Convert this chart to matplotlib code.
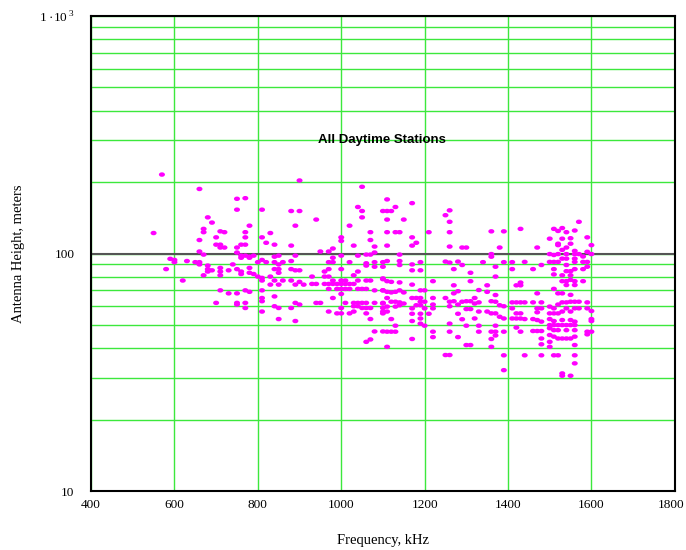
import numpy as np
import matplotlib
matplotlib.use("Agg")
import matplotlib.pyplot as plt
import matplotlib.transforms as mtransforms
from matplotlib.path import Path
from matplotlib.ticker import FixedLocator, NullFormatter

plt.rcParams['font.family'] = ['Liberation Serif', 'DejaVu Serif']
plt.rcParams['mathtext.fontset'] = 'custom'
plt.rcParams['mathtext.rm'] = 'Liberation Serif'

# frequency (kHz) and antenna height (m)
freq_600 = [570, 660, 680, 690, 670, 670, 550, 710, 700, 660, 700, 710, 710, 660, 670, 590, 600, 600,
            630, 650, 660, 660, 680, 680, 690, 680, 580, 670, 710, 710, 710, 620, 710, 700]
hgt_600 = [215, 187, 142, 135, 127, 123, 122, 124, 117, 114, 109, 109, 106, 102, 99, 95, 94, 92,
           93, 92, 92, 90, 89, 86, 85, 84, 86, 81, 87, 84, 81, 77, 70, 62]

freq_800 = [900, 750, 770, 750, 810, 880, 900, 890, 780, 720, 770, 770, 810, 830, 820, 840, 880, 720,
            750, 760, 770, 750, 760, 770, 780, 790, 760, 780, 740, 730, 750, 760, 760, 780, 780, 790,
            800, 810, 820, 800, 810, 810, 830, 830, 840, 850, 840, 850, 840, 850, 860, 880, 890, 880,
            890, 900, 850, 860, 880, 900, 910, 890, 840, 850, 770, 780, 730, 750, 810, 810, 810, 810,
            750, 750, 770, 770, 840, 840, 850, 880, 890, 900, 850, 890]
hgt_800 = [203, 170, 171, 153, 153, 151, 151, 131, 131, 123, 123, 117, 117, 122, 111, 109, 108, 106,
           106, 109, 109, 101, 98, 98, 97, 98, 96, 96, 90, 85, 86, 84, 82, 87, 83, 82,
           92, 94, 92, 80, 79, 77, 80, 74, 97, 98, 92, 90, 86, 86, 92, 93, 98, 86,
           85, 85, 83, 77, 77, 76, 74, 74, 77, 74, 70, 69, 68, 68, 70, 65, 63, 57,
           62, 61, 62, 59, 66, 60, 59, 59, 62, 61, 53, 52]

freq_1000 = [1050, 940, 1040, 1050, 1050, 1100, 1020, 1000, 1000, 1070, 1070, 1030, 1080, 950, 970, 980,
             1000, 1040, 1060, 1070, 1080, 980, 970, 980, 1020, 1060, 1060, 1080, 1100, 1080, 1100,
             960, 970, 930, 960, 970, 980, 1000, 1000, 1010, 1030, 1040, 1040, 1060, 1070, 1100,
             930, 940, 960, 970, 980, 990, 1000, 1010, 1020, 1030,
             970, 990, 1000, 1010, 1020, 1040, 1050, 1060, 1080, 1100, 1000, 980,
             940, 950, 1010, 1030, 1040, 1050, 1060, 1080, 1100,
             1030, 1040, 1050, 1060, 1070, 1100, 1000, 1000, 990, 1020, 1030, 1060, 1070, 1100, 970,
             1080, 1100, 1060, 1070]
hgt_1000 = [191, 139, 157, 151, 142, 151, 131, 117, 113, 123, 114, 108, 107, 102, 102, 105,
            98, 98, 99, 99, 101, 96, 92, 92, 92, 91, 89, 92, 92, 88, 88,
            84, 86, 80, 80, 80, 77, 86, 77, 77, 81, 84, 77, 77, 77, 78,
            74.5, 74.5, 74.5, 74.5, 74.5, 74.5, 74.5, 74.5, 74.5, 74.5,
            71, 71, 71, 71, 71, 71, 71, 71, 70, 70, 67.6, 65,
            62, 62, 62, 62, 62, 62, 62, 62, 62,
            60, 60, 59, 59, 59, 59, 59, 56, 56, 56, 57, 56, 53, 56, 57,
            47, 47, 42.5, 43.5]

freq_1200 = [1110, 1110, 1120, 1130, 1110, 1150, 1110, 1130, 1140, 1110, 1170, 1170, 1170, 1180, 1210,
             1260, 1250, 1260, 1260, 1260, 1290, 1140, 1140, 1140, 1110, 1170, 1170, 1190, 1190, 1250,
             1260, 1280, 1270, 1290, 1220, 1270, 1270, 1280, 1170,
             1100, 1110, 1120, 1140, 1100, 1110, 1120, 1130, 1140, 1150, 1110, 1120, 1130, 1140, 1150,
             1100, 1110, 1130, 1140, 1100, 1110, 1120, 1130,
             1170, 1180, 1190, 1190, 1200, 1190, 1200, 1200, 1170, 1180, 1190, 1220, 1220, 1250, 1260,
             1270, 1280, 1290, 1260, 1220, 1210, 1190, 1170, 1170, 1190, 1190, 1200, 1260, 1290, 1280,
             1110, 1120, 1130, 1170, 1110, 1220, 1220, 1260, 1280, 1250, 1260]
hgt_1200 = [169, 151, 151, 157, 139, 139, 123, 123, 123, 108, 163, 117, 108, 111, 123,
            152, 145, 136, 123, 107, 106, 99, 93, 89.5, 93, 90, 85, 92, 85, 92.5,
            91.6, 92.5, 86, 89.5, 76.5, 73.5, 68, 69.4, 74,
            78.6, 76.5, 76, 75.6, 70, 69, 68.6, 69, 70, 68.6, 65, 62.7, 62.7, 62.3, 61.6,
            61.6, 59.8, 59.8, 60.6, 57, 57, 53, 49.7,
            65, 65, 65, 70, 70, 62.7, 62.7, 58.8, 58.8, 60.6, 60.6, 65, 61, 65, 62.7,
            63, 61, 62.7, 60, 58.8, 55.8, 55.8, 55.8, 52, 53.3, 50.7, 49.7, 50.7, 52.9, 55.8,
            46.9, 46.9, 46.9, 43.7, 40.5, 46.9, 44.5, 46.9, 44.5, 37.4, 37.4]

freq_1400 = [1360, 1390, 1430, 1300, 1380, 1360, 1360, 1340, 1390, 1410, 1370, 1410, 1310, 1370, 1310,
             1420, 1430, 1430, 1350, 1330, 1350, 1370,
             1300, 1310, 1320, 1320, 1330, 1360, 1370, 1380, 1390, 1410, 1420, 1430, 1300, 1310, 1330,
             1350, 1360, 1370, 1380, 1390, 1410, 1420, 1430, 1410, 1420, 1430, 1320,
             1300, 1330, 1370, 1420, 1430, 1330, 1360, 1370, 1390, 1370, 1360, 1300, 1310, 1360, 1390, 1390]
hgt_1400 = [124, 124, 127, 106, 106, 99.5, 97, 92, 92, 92, 88, 86, 83, 80, 76.5,
            73.5, 75.5, 73.5, 73.5, 70.2, 69, 66.9,
            63, 63, 65, 61.6, 62.3, 63, 62.7, 60.6, 60, 62.3, 62.3, 62.3, 58.4, 58.4, 57,
            57, 56, 56, 54.2, 53.3, 58.8, 56, 56, 53.3, 53.3, 53.3, 53.3,
            49.7, 49.7, 49.7, 48.8, 46.9, 46.9, 46.9, 46.9, 46.9, 45.2, 43.7, 41.2, 41.2, 40.5, 37.3, 32.3]

freq_1600 = [1570, 1510, 1530, 1520, 1540, 1560, 1500, 1520, 1530, 1550, 1590, 1520, 1540, 1600, 1470, 1550,
             1500, 1510, 1520, 1530, 1540, 1540, 1560, 1560, 1570, 1580, 1590, 1600, 1530, 1560,
             1440, 1480, 1500, 1510, 1520, 1540, 1560, 1580, 1590, 1460, 1510, 1540, 1550, 1560, 1580, 1590,
             1510, 1530, 1550, 1530, 1540, 1550, 1560, 1580, 1540, 1560, 1510, 1520, 1530, 1550, 1470,
             1440, 1460, 1480, 1480, 1470, 1500, 1510, 1520, 1530, 1540, 1550, 1560, 1570, 1590, 1570, 1540,
             1560, 1590, 1600, 1530, 1550, 1470, 1500, 1510, 1520, 1440, 1460, 1470, 1480, 1500, 1510, 1530,
             1550, 1560, 1600, 1600, 1500, 1510, 1520, 1530, 1540, 1550, 1560, 1500, 1510, 1520, 1540, 1560,
             1460, 1470, 1480, 1590, 1600, 1500, 1510, 1520, 1530, 1540, 1550, 1560, 1590, 1480, 1500, 1560,
             1480, 1500, 1560, 1440, 1480, 1510, 1520, 1560, 1530, 1550, 1530]
hgt_1600 = [136, 127, 128, 124.5, 123, 125, 115.5, 110, 115.5, 116, 117, 108.5, 106, 108.5, 106, 110,
            99.5, 98.6, 99.5, 103.6, 99.5, 95.2, 102.6, 99.5, 99.5, 97.2, 101.7, 99.5, 95.2, 95.2,
            92.2, 89.5, 92.2, 92.2, 92.2, 89.5, 92.2, 92.2, 92.2, 86, 86, 84.3, 84.3, 86, 86, 88,
            81.7, 81, 81, 76.5, 76.5, 77.5, 76.5, 76.5, 73.7, 73.7, 71, 68, 68, 67, 68,
            62.3, 62.3, 62.3, 58.8, 58.8, 59.8, 58.8, 61, 62.3, 62.3, 62.7, 62.7, 62.7, 62.3, 58.8, 58.8,
            58.8, 58.8, 57.3, 57, 57, 56.6, 56, 56, 56, 53, 53, 52.5, 51.7, 53, 52, 52.5,
            52.5, 51.7, 53, 52, 50, 50, 50, 50, 50, 50, 50, 48.5, 47.6, 47.6, 47.6, 47.6,
            47.2, 47.2, 47.2, 46.9, 46.9, 45.4, 44.7, 43.9, 43.9, 43.9, 43.9, 44.7, 45.7, 43.9, 42.5, 41.2,
            41.5, 40.5, 37.3, 37.3, 37.3, 37.3, 37.3, 34.5, 31.3, 30.6, 30.6]

freq = np.array(freq_600 + freq_800 + freq_1000 + freq_1200 + freq_1400 + freq_1600)
height = np.array(hgt_600 + hgt_800 + hgt_1000 + hgt_1200 + hgt_1400 + hgt_1600)

# slightly wide dots, like the original
circ = Path.unit_circle()
dot = Path(circ.vertices * [1.35, 1.0], circ.codes)

fig = plt.figure(figsize=(6.86, 5.5), dpi=100)
ax = fig.add_axes([0.1327, 0.107, 0.851, 0.864])

ax.set_yscale('log')
ax.set_xlim(400, 1800)
ax.set_ylim(10, 1000)

green = '#3ce83c'
ax.set_xticks([400, 600, 800, 1000, 1200, 1400, 1600, 1800])
ax.set_yticks([10, 100, 1000])
ax.set_yticklabels(['10', '100', '1 ·10$^{\\,3}$'])
ax.yaxis.set_minor_locator(FixedLocator([20, 30, 40, 50, 60, 70, 80, 90,
                                         200, 300, 400, 500, 600, 700, 800, 900]))
ax.yaxis.set_minor_formatter(NullFormatter())
ax.grid(True, which='major', color=green, lw=1.0, zorder=0)
ax.grid(True, which='minor', axis='y', color=green, lw=1.0, zorder=0)
ax.axhline(100, color='#555555', lw=1.5, zorder=1)
ax.set_axisbelow(True)

ax.scatter(freq, height, s=19, marker=dot, color='#ff00ff', edgecolors='none', zorder=3)

ax.tick_params(which='both', length=0, labelsize=9.5, pad=6)
ax.tick_params(axis='y', pad=12)
for sp in ax.spines.values():
    sp.set_linewidth(1.5)
    sp.set_color('black')

# keep the last x label inside the canvas
last = ax.get_xticklabels()[-1]
last.set_transform(last.get_transform() +
                   mtransforms.ScaledTranslation(-3 / 72, 0, fig.dpi_scale_trans))

ax.text(0.498, 0.739, 'All Daytime Stations', transform=ax.transAxes, ha='center', va='center',
        fontsize=9.5, fontweight='bold', family=['Liberation Sans', 'DejaVu Sans'])

ax.set_xlabel('Frequency, kHz', fontsize=10.5, labelpad=16)
ax.set_ylabel('Antenna Height, meters', fontsize=10.5, labelpad=10)

fig.savefig('out.png', dpi=100)
